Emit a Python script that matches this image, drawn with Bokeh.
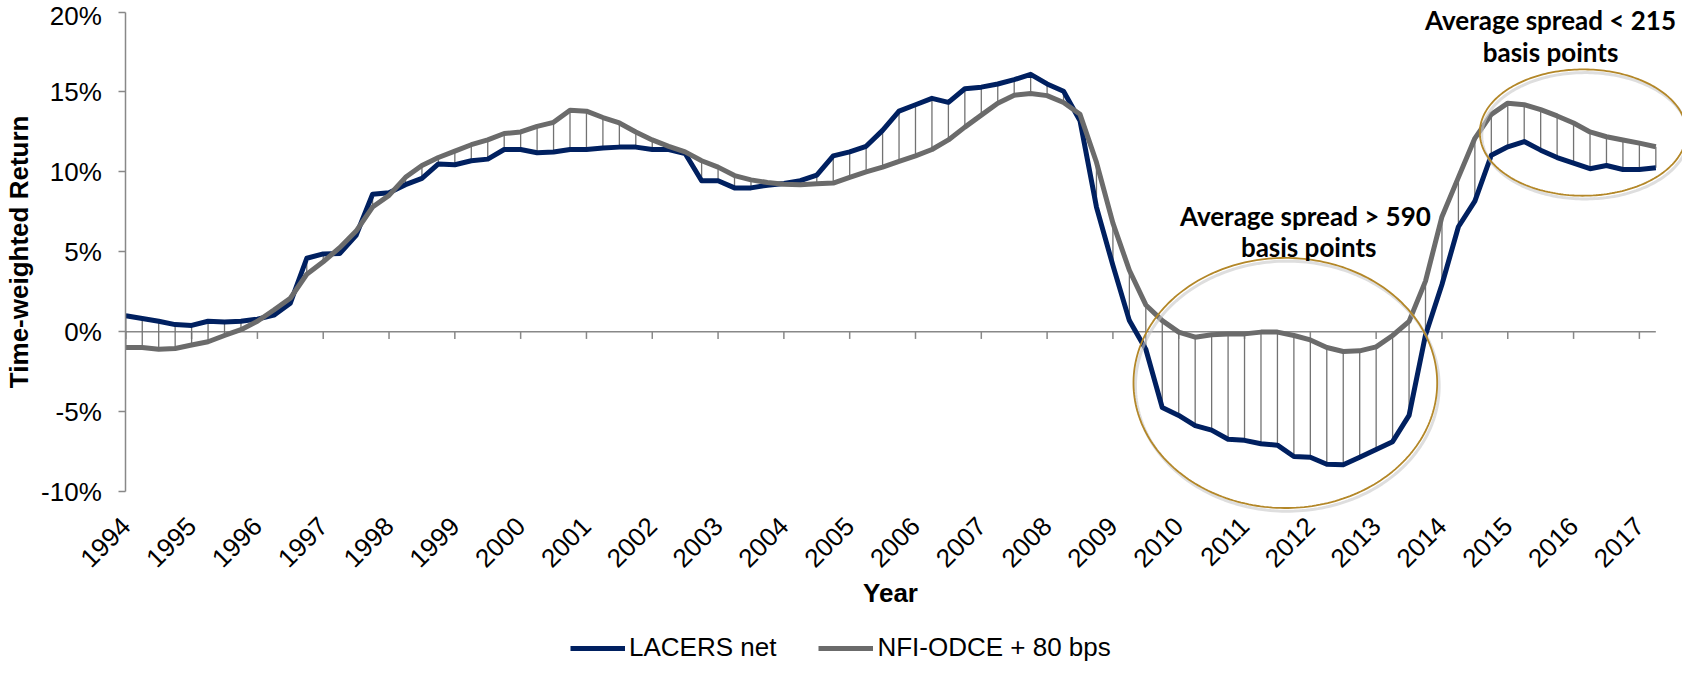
import math
import numpy as np
from bokeh.plotting import figure
from bokeh.models import (FixedTicker, PrintfTickFormatter, Label, PolyAnnotation,
                          Legend, LegendItem, Range1d)
from bokeh.embed import file_html
from bokeh.resources import INLINE

# ---------------- data (quarterly, 1994 Q1 .. 2017 Q2) ----------------
years = [str(y) for y in range(1994, 2018)]
quarters = list(range(94))
lacers_net = [1.0, 0.83, 0.66, 0.45, 0.40, 0.66, 0.62, 0.66, 0.79, 1.04,
              1.79, 4.6, 4.87, 4.9, 6.04, 8.6, 8.7, 9.2, 9.6, 10.5,
              10.45, 10.7, 10.8, 11.4, 11.4, 11.2, 11.25, 11.4, 11.4, 11.5,
              11.55, 11.55, 11.4, 11.4, 11.15, 9.45, 9.45, 9.0, 9.0, 9.17,
              9.28, 9.45, 9.8, 11.0, 11.25, 11.6, 12.6, 13.8, 14.2, 14.6,
              14.35, 15.2, 15.3, 15.5, 15.77, 16.1, 15.5, 15.04, 13.2, 7.8,
              4.15, 0.7, -1.09, -4.74, -5.23, -5.87, -6.15, -6.72, -6.79, -7.0,
              -7.09, -7.8, -7.85, -8.28, -8.32, -7.85, -7.36, -6.87, -5.23, -0.2,
              2.96, 6.57, 8.17, 11.04, 11.57, 11.9, 11.36, 10.9, 10.55, 10.2,
              10.4, 10.15, 10.15, 10.26]
nfi_odce_80 = [-0.98, -0.98, -1.09, -1.04, -0.83, -0.62, -0.23, 0.13, 0.66, 1.36,
               2.1, 3.6, 4.38, 5.26, 6.3, 7.8, 8.53, 9.66, 10.4, 10.9,
               11.3, 11.7, 12.0, 12.4, 12.5, 12.85, 13.1, 13.85, 13.8, 13.4,
               13.06, 12.5, 12.0, 11.6, 11.25, 10.7, 10.3, 9.77, 9.5, 9.34,
               9.23, 9.2, 9.26, 9.3, 9.66, 10.0, 10.3, 10.66, 11.0, 11.4,
               12.0, 12.8, 13.55, 14.3, 14.8, 14.9, 14.77, 14.34, 13.6, 10.6,
               6.8, 3.85, 1.68, 0.7, -0.02, -0.34, -0.19, -0.13, -0.13, -0.02,
               -0.02, -0.23, -0.51, -0.98, -1.23, -1.19, -0.94, -0.23, 0.65, 3.17,
               7.2, 9.66, 12.1, 13.6, 14.3, 14.2, 13.9, 13.5, 13.06, 12.5,
               12.2, 12.0, 11.8, 11.57]
y_ticks = [-10, -5, 0, 5, 10, 15, 20]
year_ticks = [4 * k for k in range(len(years))]

NAVY = "#002060"
GREY = "#6b6b6b"
AXIS = "#888888"
GOLD = "#B38728"
FONT = "Liberation Sans"

PX_PER_PCT = 15.7

# The frame covers (nearly) the whole canvas, so that the call-out ellipses,
# texts and the legend are not clipped. Both axes are pinned with
# fixed_location and bounded to the data extents.
p = figure(width=1682, height=665, output_backend="svg", toolbar_location=None,
           x_range=Range1d(-7.616, 94.621), y_range=Range1d(-20.87, 20.72),
           min_border_left=0, min_border_right=0, min_border_top=0,
           min_border_bottom=0)
p.outline_line_color = None
p.grid.visible = False
p.background_fill_color = "white"

# y axis
ya = p.yaxis[0]
ya.fixed_location = 0
ya.bounds = (-10, 20)
ya.ticker = FixedTicker(ticks=y_ticks)
ya.formatter = PrintfTickFormatter(format="%d%%")
ya.axis_line_color = AXIS
ya.axis_line_width = 1.5
ya.major_tick_line_color = AXIS
ya.major_tick_line_width = 1.5
ya.major_tick_out = 7
ya.major_tick_in = 0
ya.minor_tick_line_color = None
ya.major_label_text_font = FONT
ya.major_label_text_font_size = "26px"
ya.major_label_text_color = "black"
ya.major_label_standoff = 17

# y title, centred on the -10..20 % span
p.add_layout(Label(x=-6.52, y=5.0, text="Time-weighted Return", angle=math.pi / 2,
                   text_font=FONT, text_font_size="26px", text_font_style="bold",
                   text_color="black", text_align="center", text_baseline="middle"))

# x axis (labels at the -10 % level, axis line drawn at zero)
xa = p.xaxis[0]
xa.fixed_location = -10
xa.bounds = (0, 93)
xa.ticker = FixedTicker(ticks=year_ticks)
xa.major_label_overrides = {t: y for t, y in zip(year_ticks, years)}
xa.axis_line_color = None
xa.major_tick_line_color = None
xa.major_tick_out = 0
xa.major_tick_in = 0
xa.minor_tick_line_color = None
xa.major_label_orientation = math.pi / 4
xa.major_label_text_font = FONT
xa.major_label_text_font_size = "26px"
xa.major_label_text_color = "black"
xa.major_label_standoff = 30
xa.axis_label = "Year"
xa.axis_label_text_font = FONT
xa.axis_label_text_font_size = "26px"
xa.axis_label_text_font_style = "bold"
xa.axis_label_text_color = "black"
xa.axis_label_standoff = 0

# zero line acting as category axis, with year tick marks
p.segment(x0=[0], y0=[0], x1=[93], y1=[0], line_color=AXIS, line_width=1.5)
tick_len = 7 / PX_PER_PCT
p.segment(x0=year_ticks, y0=[0] * len(year_ticks), x1=year_ticks,
          y1=[-tick_len] * len(year_ticks), line_color=AXIS, line_width=1.5)

# high-low lines
p.segment(x0=quarters, y0=lacers_net, x1=quarters, y1=nfi_odce_80,
          line_color="#727272", line_width=1.3)

r1 = p.line(quarters, lacers_net, line_color=NAVY, line_width=5, line_join="round")
r2 = p.line(quarters, nfi_odce_80, line_color=GREY, line_width=5, line_join="round")

# call-out ellipses (with faint shadow)
t = np.linspace(0, 2 * np.pi, 240)
for cx, cy, ax, by in [(70.48, -3.2, 9.23, 7.82), (88.58, 12.46, 6.28, 3.95)]:
    p.add_layout(PolyAnnotation(xs=list(cx + 0.12 + ax * np.cos(t)),
                                ys=list(cy - 0.2 + by * np.sin(t)),
                                fill_color=None, fill_alpha=0, line_color="#c8c8c8",
                                line_alpha=0.6, line_width=3))
    p.add_layout(PolyAnnotation(xs=list(cx + ax * np.cos(t)), ys=list(cy + by * np.sin(t)),
                                fill_color=None, fill_alpha=0, line_color=GOLD,
                                line_alpha=1.0, line_width=1.8))

# annotation texts
for x, y, txt in [(71.7, 7.24, "Average spread > 590"), (71.9, 5.28, "basis points"),
                  (86.6, 19.53, "Average spread < 215"), (86.6, 17.51, "basis points")]:
    p.add_layout(Label(x=x, y=y, text=txt, text_font="Lato", text_font_size="26px",
                       text_font_style="bold", text_color="black",
                       text_align="center", text_baseline="alphabetic"))

legend = Legend(items=[LegendItem(label="LACERS net", renderers=[r1]),
                       LegendItem(label="NFI-ODCE + 80 bps", renderers=[r2])],
                orientation="horizontal", location=(570, 2),
                label_text_font=FONT, label_text_font_size="26px", label_text_color="black",
                glyph_width=55, glyph_height=20, label_height=20, label_standoff=4,
                spacing=42, padding=0, margin=0, border_line_color=None,
                background_fill_alpha=0)
p.add_layout(legend)

open("out.html", "w").write(file_html(p, INLINE))
